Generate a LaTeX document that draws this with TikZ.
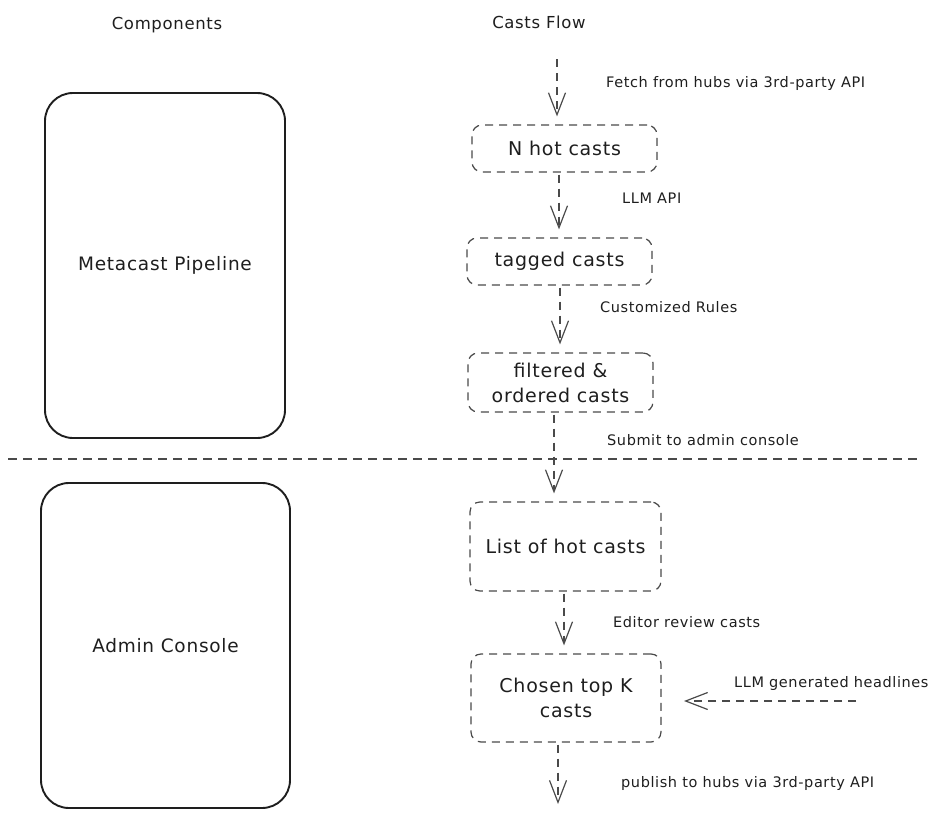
\documentclass[tikz,border=0pt]{standalone}
\usepackage{fontspec}
\setmainfont{DejaVu Sans}[LetterSpace=4]
\usetikzlibrary{arrows.meta}
\definecolor{ink}{HTML}{1E1E1E}
\definecolor{dash}{HTML}{4A4A4A}
\tikzset{
  comp/.style={draw=ink, line width=1.9pt, rounded corners=28pt, minimum width=#1, text=ink, font=\fontsize{18.5}{22}\selectfont},
  flow/.style={draw=dash, line width=1.2pt, dash pattern=on 8pt off 6pt, rounded corners=10pt, text=ink, align=center, font=\fontsize{19}{25}\selectfont},
  conn/.style={draw=dash, line width=1.2pt, dash pattern=on 8pt off 6pt, shorten >=8pt, shorten <=2pt, -{Straight Barb[length=22pt,width=17pt,line width=1.2pt]}},
  lbl/.style={text=ink, font=\fontsize{14.5}{17}\selectfont, anchor=west, inner sep=0pt},
  head/.style={text=ink, font=\fontsize{16.5}{20}\selectfont},
}
\begin{document}
\begin{tikzpicture}[x=1pt,y=-1pt]
\useasboundingbox (0,0) rectangle (937,819);
\node[head] (hcomp) at (167,25) {Components};
\node[head] (hflow) at (539,22) {Casts Flow};
% components
\node[comp=240pt, minimum height=345pt] (meta) at (165,265.5) {Metacast Pipeline};
\node[comp=249pt, minimum height=325pt] (admin) at (165.5,645.5) {Admin Console};
% separator
\coordinate (sepL) at (8,459);
\coordinate (sepR) at (920,459);
\draw[draw=dash, line width=1.2pt, dash pattern=on 9pt off 6pt] (sepL) -- (sepR);
% flow nodes
\node[flow, minimum width=185pt, minimum height=47pt] (n1) at (564.5,148.5) {N hot casts};
\node[flow, minimum width=185pt, minimum height=47pt] (n2) at (559.5,261.5) {tagged casts};
\node[flow, minimum width=185pt, minimum height=59pt] (n3) at (560.5,382.5) {filtered \&\\ordered casts};
\node[flow, minimum width=191pt, minimum height=89pt] (n4) at (565.5,546.5) {List of hot casts};
\node[flow, minimum width=190pt, minimum height=88pt] (n5) at (566,698) {Chosen top K\\casts};
% free ends
\coordinate (top) at (557,57);
\coordinate (bot) at (558,812);
\coordinate (rt) at (858,701);
\coordinate (lt) at (676,701);
% connectors
\draw[conn] (top) -- ([xshift=-7.5pt]n1.north);
\draw[conn] ([xshift=-5.5pt]n1.south) -- ([xshift=-0.5pt]n2.north);
\draw[conn] ([xshift=0.5pt]n2.south) -- ([xshift=-0.5pt]n3.north);
\draw[conn] ([xshift=-6.5pt]n3.south) -- ([xshift=-11.5pt]n4.north);
\draw[conn] ([xshift=-1.5pt]n4.south) -- ([xshift=-2pt]n5.north);
\draw[conn] ([xshift=-8pt]n5.south) -- (bot);
\draw[conn] (rt) -- (lt);
% labels
\node[lbl] (l1) at (606,83) {Fetch from hubs via 3rd-party API};
\node[lbl] (l2) at (622,198) {LLM API};
\node[lbl] (l3) at (600,307) {Customized Rules};
\node[lbl] (l4) at (607,440) {Submit to admin console};
\node[lbl] (l5) at (613,622) {Editor review casts};
\node[lbl] (l6) at (734,683) {LLM generated headlines};
\node[lbl] (l7) at (621,783) {publish to hubs via 3rd-party API};
\end{tikzpicture}
\end{document}
